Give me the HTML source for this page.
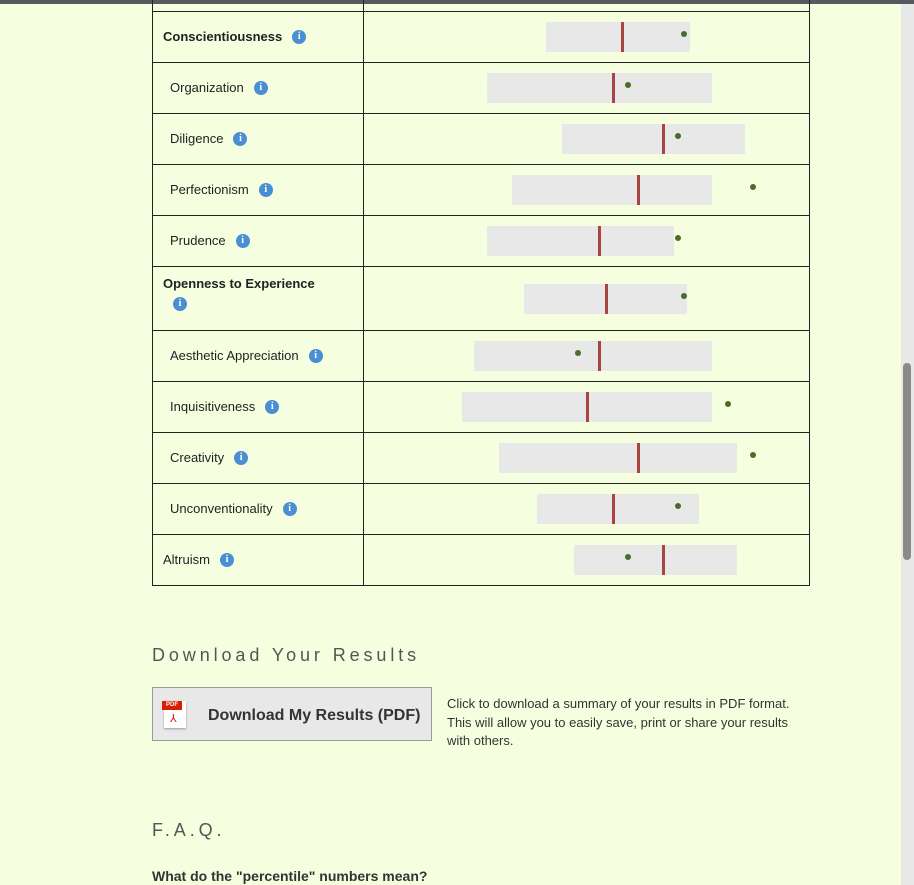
<!DOCTYPE html>
<html><head><meta charset="utf-8">
<style>
body{margin:0;width:914px;height:885px;overflow:hidden;background:#f5ffe0;font-family:"Liberation Sans",sans-serif;position:relative}
.abs{position:absolute}
.info{display:inline-block;width:14px;height:14px;border-radius:50%;background:#4a8fd4;color:#fff;font:bold 10px/14px "Liberation Serif",serif;text-align:center;vertical-align:middle;margin-left:10px}
</style></head><body>
<div class="abs" style="left:0;top:0;width:914px;height:4px;background:#555a5e"></div>
<div class="abs" style="left:901px;top:4px;width:13px;height:881px;background:#e8e8e8"></div>
<div class="abs" style="left:903px;top:363px;width:8px;height:197px;background:#8a8a8a;border-radius:4px"></div>
<div id="tbl" class="abs" style="left:152px;top:0;width:658px;height:586px"></div>
<div class="abs" style="left:152px;top:645px;font-size:18px;letter-spacing:3.9px;color:#555">Download Your Results</div>
<div class="abs" style="left:152px;top:687px;width:278px;height:52px;background:#e8e8e8;border:1px solid #999">
  <div class="abs" style="left:11px;top:13px;width:22px;height:27px;background:#fff;box-shadow:0 1px 2px #999">
    <div class="abs" style="left:-2px;top:0;width:20px;height:9px;background:#d81e05;color:#fff;font:bold 6px/9px 'Liberation Sans',sans-serif;text-align:center">PDF</div>
    <div class="abs" style="left:6px;top:11px;color:#d81e05;font-size:11px">⅄</div>
  </div>
  <div class="abs" style="left:55px;top:19px;font-size:16px;font-weight:bold;color:#333">Download My Results (PDF)</div>
</div>
<div class="abs" style="left:447px;top:695px;width:350px;font-size:13px;line-height:18.5px;color:#333">Click to download a summary of your results in PDF format. This will allow you to easily save, print or share your results with others.</div>
<div class="abs" style="left:152px;top:820px;font-size:18px;letter-spacing:3.9px;color:#555">F.A.Q.</div>
<div class="abs" style="left:152px;top:868px;font-size:14px;font-weight:bold;color:#333">What do the "percentile" numbers mean?</div>
<script>
const traits=["Conscientiousness","Organization","Diligence","Perfectionism","Prudence","Openness to Experience","Aesthetic Appreciation","Inquisitiveness","Creativity","Unconventionality","Altruism"];
const isMain=[true,false,false,false,false,true,false,false,false,false,false];
const rangeLow=[41.0,27.8,44.6,33.4,27.8,36.1,24.9,22.2,30.5,39.0,47.3];
const rangeHigh=[73.3,78.3,85.7,78.3,69.7,72.6,78.3,78.3,83.9,75.3,83.9];
const average=[58.1,56.1,67.3,61.7,53.1,54.5,53.1,50.4,61.7,56.1,67.3];
const score=[72.0,59.4,70.6,87.4,70.6,72.0,48.2,81.8,87.4,70.6,59.4];
const tbl=document.getElementById('tbl');
function xs(v){return 211+v*4.46;}
function add(tag,css,parent){const e=document.createElement(tag);e.style.cssText=css;(parent||tbl).appendChild(e);return e;}
let line=add('div','position:absolute;left:0;top:0;width:1px;height:586px;background:#222');


line=add('div','position:absolute;left:657px;top:0;width:1px;height:586px;background:#222');


line=add('div','position:absolute;left:211px;top:0;width:1px;height:586px;background:#222');


let y=11;
traits.forEach((t,i)=>{
  const tall=(t==="Openness to Experience");
  const h=tall?64:51;
  const hl=add('div','position:absolute;left:0;top:'+y+'px;width:658px;height:1px;background:#222');
  
  
  const lab=add('div','position:absolute;left:'+(isMain[i]||t==="Altruism"?11:18)+'px;top:'+(tall?y+8:y+18)+'px;font-size:13px;color:#222;'+(isMain[i]?'font-weight:bold;':'')+(tall?'width:170px;line-height:20px':''));
  
  
  lab.innerHTML=t+(tall?'<br>':'')+'<span class="info" style="'+(tall?'margin-left:10px;margin-top:-2px':'margin-top:-2px')+'">i</span>';
  
  
  const bt=y+(h-30)/2+(tall?1:0);
  const box=add('div','position:absolute;left:'+xs(rangeLow[i])+'px;top:'+bt+'px;width:'+(xs(rangeHigh[i])-xs(rangeLow[i]))+'px;height:30px;background:#e8e8e8');
  
  
  const avg=add('div','position:absolute;left:'+(xs(average[i])-1.5)+'px;top:'+bt+'px;width:3px;height:30px;background:#a94442');
  
  
  const dot=add('div','position:absolute;left:'+(xs(score[i])-3)+'px;top:'+(bt+9)+'px;width:6px;height:6px;border-radius:50%;background:#4d6b2a');
  
  
  y+=h;
});
const bl=add('div','position:absolute;left:0;top:'+y+'px;width:658px;height:1px;background:#222');


</script>
</body></html>
